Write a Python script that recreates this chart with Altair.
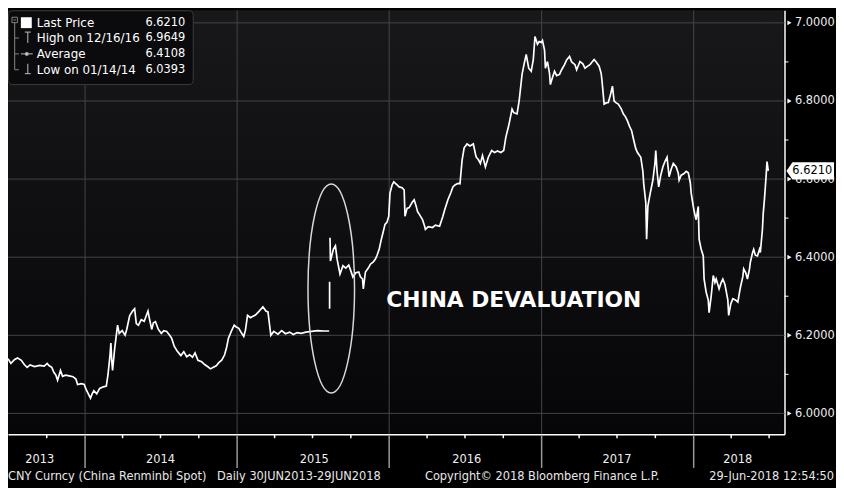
import datetime as dt
import pandas as pd
import altair as alt

# ---------------- values (day-of-year, price) ----------------
doy_2013 = [181, 188, 197, 204, 213, 220, 227, 234, 245, 257, 268, 275, 280, 286, 291,
            296, 300, 307, 312, 319, 328, 337, 344, 348, 357, 364]
px_2013 = [6.140, 6.128, 6.138, 6.142, 6.136, 6.125, 6.118, 6.124, 6.120, 6.123, 6.121, 6.128,
           6.122, 6.118, 6.105, 6.098, 6.085, 6.110, 6.095, 6.098, 6.096, 6.094, 6.088, 6.074,
           6.076, 6.074]

doy_2014 = [4, 14, 18, 22, 29, 36, 45, 52, 56, 61, 63, 65, 67, 72, 79, 83, 90, 97, 101, 108,
            115, 120, 124, 129, 136, 143, 152, 156, 161, 165, 170, 177, 184, 190, 197, 204,
            209, 215, 222, 231, 238, 245, 252, 259, 265, 272, 281, 288, 295, 302, 309, 316,
            322, 329, 336, 341, 345, 352, 359, 363]
px_2014 = [6.060, 6.039, 6.050, 6.058, 6.050, 6.064, 6.068, 6.070, 6.099, 6.150, 6.180, 6.135,
           6.110, 6.165, 6.226, 6.205, 6.212, 6.200, 6.215, 6.250, 6.262, 6.268, 6.230, 6.226,
           6.240, 6.236, 6.262, 6.240, 6.215, 6.232, 6.235, 6.215, 6.205, 6.212, 6.210, 6.200,
           6.192, 6.172, 6.160, 6.148, 6.158, 6.145, 6.150, 6.144, 6.155, 6.136, 6.132, 6.125,
           6.120, 6.114, 6.118, 6.122, 6.130, 6.136, 6.150, 6.170, 6.192, 6.210, 6.226, 6.222]

doy_2015_pre = [5, 12, 17, 21, 26, 33, 38, 45, 54, 63, 70, 75, 82, 89, 99, 108, 117, 127, 136,
                145, 155, 166, 180, 194, 209, 222]
px_2015_pre = [6.218, 6.205, 6.197, 6.213, 6.251, 6.245, 6.248, 6.252, 6.262, 6.273, 6.262,
               6.260, 6.200, 6.210, 6.203, 6.212, 6.204, 6.208, 6.202, 6.207, 6.205, 6.208,
               6.210, 6.212, 6.211, 6.211]

dev_doy = 223                      # 11 Aug 2015
dev_range = [6.268, 6.337]

doy_2015_post = [224, 225, 232, 237, 241, 248, 255, 262, 269, 274, 279, 286, 293, 297, 302,
                 304, 309, 316, 321, 328, 333, 337, 342, 347, 351, 356, 361, 365]
px_2015_post = [6.450, 6.390, 6.420, 6.429, 6.395, 6.357, 6.378, 6.372, 6.380, 6.365, 6.349,
                6.360, 6.362, 6.350, 6.344, 6.319, 6.362, 6.372, 6.382, 6.388, 6.395, 6.405,
                6.420, 6.445, 6.462, 6.484, 6.490, 6.505]

doy_2016 = [3, 8, 12, 20, 25, 32, 37, 39, 44, 49, 56, 61, 66, 69, 76, 81, 86, 88, 95, 105,
            112, 122, 130, 134, 142, 149, 154, 159, 166, 171, 176, 181, 188, 195, 203, 208,
            210, 215, 220, 225, 232, 239, 247, 254, 261, 269, 276, 281, 288, 296, 300, 308,
            313, 320, 325, 330, 335, 336, 342, 347, 351, 357, 361, 366]
px_2016 = [6.564, 6.585, 6.593, 6.585, 6.580, 6.578, 6.572, 6.505, 6.525, 6.527, 6.540, 6.547,
           6.530, 6.517, 6.505, 6.496, 6.480, 6.471, 6.478, 6.476, 6.482, 6.479, 6.505, 6.520,
           6.547, 6.565, 6.580, 6.585, 6.589, 6.588, 6.648, 6.680, 6.690, 6.685, 6.690, 6.665,
           6.656, 6.650, 6.640, 6.660, 6.631, 6.656, 6.673, 6.668, 6.672, 6.668, 6.673, 6.707,
           6.737, 6.779, 6.770, 6.767, 6.800, 6.868, 6.895, 6.919, 6.890, 6.884, 6.876, 6.906,
           6.965, 6.945, 6.952, 6.950]

doy_2017 = [3, 8, 10, 15, 20, 22, 27, 32, 37, 44, 49, 56, 61, 68, 73, 81, 85, 93, 100, 105,
            110, 117, 122, 127, 132, 139, 144, 146, 151, 156, 161, 166, 171, 175, 180, 185,
            192, 197, 202, 207, 212, 217, 222, 227, 231, 239, 244, 246, 251, 253, 256, 261,
            268, 273, 275, 278, 282, 287, 292, 297, 302, 307, 312, 317, 324, 329, 331, 336,
            343, 348, 353, 358, 360, 365]
px_2017 = [6.955, 6.930, 6.884, 6.901, 6.870, 6.842, 6.860, 6.876, 6.865, 6.868, 6.880, 6.893,
           6.905, 6.914, 6.900, 6.893, 6.880, 6.901, 6.895, 6.884, 6.888, 6.893, 6.900, 6.906,
           6.900, 6.889, 6.870, 6.851, 6.792, 6.795, 6.796, 6.815, 6.838, 6.800, 6.795, 6.792,
           6.780, 6.767, 6.760, 6.749, 6.735, 6.724, 6.700, 6.678, 6.668, 6.656, 6.620, 6.589,
           6.540, 6.446, 6.530, 6.560, 6.597, 6.640, 6.673, 6.620, 6.580, 6.610, 6.631, 6.645,
           6.656, 6.606, 6.625, 6.640, 6.631, 6.615, 6.597, 6.610, 6.614, 6.620, 6.616, 6.590,
           6.564, 6.530]

doy_2018 = [3, 7, 12, 14, 19, 24, 26, 31, 36, 38, 43, 48, 52, 55, 59, 62, 67, 71, 76, 78,
            83, 85, 90, 95, 102, 107, 111, 114, 119, 121, 126, 130, 135, 137, 142, 145, 149,
            154, 159, 161, 166, 168, 171, 173, 175, 177, 180]
px_2018 = [6.513, 6.496, 6.530, 6.446, 6.420, 6.403, 6.344, 6.310, 6.290, 6.258, 6.300, 6.353,
           6.335, 6.344, 6.330, 6.319, 6.335, 6.344, 6.330, 6.319, 6.290, 6.251, 6.280, 6.294,
           6.290, 6.285, 6.310, 6.327, 6.350, 6.370, 6.360, 6.344, 6.370, 6.387, 6.410, 6.420,
           6.405, 6.403, 6.420, 6.412, 6.471, 6.513, 6.550, 6.580, 6.610, 6.645, 6.621]

last_price = 6.6210
legend_labels = ["Last Price", "High on 12/16/16", "Average", "Low on 01/14/14"]
legend_values = ["6.6210", "6.9649", "6.4108", "6.0393"]

y_major = [6.0, 6.2, 6.4, 6.6, 6.8, 7.0]
y_minor = [6.1, 6.3, 6.5, 6.7, 6.9]
year_starts = ["2014-01-01", "2015-01-01", "2016-01-01", "2017-01-01", "2018-01-01"]
quarter_ticks = ["2013-10-01", "2014-04-01", "2014-07-01", "2014-10-01", "2015-04-01",
                 "2015-07-01", "2015-10-01", "2016-04-01", "2016-07-01", "2016-10-01",
                 "2017-04-01", "2017-07-01", "2017-10-01", "2018-04-01", "2018-07-01"]
year_labels = ["2013", "2014", "2015", "2016", "2017", "2018"]
year_label_dates = ["2013-09-14", "2014-07-01", "2015-07-05", "2016-07-05", "2017-07-01",
                    "2018-04-17"]
ellipse_center = ("2015-08-15", 6.32)
annotation_text = "CHINA DEVALUATION"
footer_texts = ["CNY Curncy (China Renminbi Spot)", "Daily 30JUN2013-29JUN2018",
                "Copyright\u00a9 2018 Bloomberg Finance L.P.", "29-Jun-2018 12:54:50"]

# ---------------- build tables ----------------
def day(year, doy):
    return (dt.date(year, 1, 1) + dt.timedelta(days=doy - 1)).isoformat()

rows = []
def add(year, doys, pxs, seg):
    for d, p in zip(doys, pxs):
        rows.append({"date": day(year, d), "price": p, "seg": seg, "i": len(rows)})

add(2013, doy_2013, px_2013, 0)
add(2014, doy_2014, px_2014, 0)
add(2015, doy_2015_pre, px_2015_pre, 0)
add(2015, [dev_doy, dev_doy], dev_range, 1)
add(2015, doy_2015_post, px_2015_post, 2)
add(2016, doy_2016, px_2016, 2)
add(2017, doy_2017, px_2017, 2)
add(2018, doy_2018, px_2018, 2)
df = pd.DataFrame(rows)

def dtm(s):
    y, m, d = map(int, s.split("-"))
    return alt.DateTime(year=y, month=m, date=d, utc=True)

W, H = 784, 428
FONT = "DejaVu Sans"
one = pd.DataFrame({"k": [0]})
GRID = "#45454a"

xscale = alt.Scale(type="utc", domain=[dtm("2013-06-30"), dtm("2018-08-07")])
yscale = alt.Scale(domain=[5.9467, 7.0322], nice=False, zero=False)
xaxis = alt.Axis(values=[dtm(s) for s in year_starts], labels=False, ticks=False,
                 domainColor="#ffffff", domainWidth=1.5, grid=False, title=None)
yaxis = alt.Axis(orient="right", values=y_major, format=".4f", ticks=False,
                 domainColor="#ffffff", domainWidth=1.5, labelColor="#eeeeee",
                 labelFont=FONT, labelFontSize=11.5, labelPadding=10, labelOverlap=False,
                 grid=False, title=None)
x_enc = alt.X("date:T", scale=xscale, axis=xaxis)
y_enc = alt.Y("price:Q", scale=yscale, axis=yaxis)

layers = []

bg = alt.Chart(one).mark_rect(
    fill=alt.LinearGradient(gradient="linear",
                            stops=[alt.GradientStop(color="#18181b", offset=0),
                                   alt.GradientStop(color="#060609", offset=1)],
                            x1=0, x2=0, y1=0, y2=1)
).encode(x=alt.value(0), x2=alt.value(W - 1), y=alt.value(0), y2=alt.value(H - 1))
layers.append(bg)

grid_v = alt.Chart(pd.DataFrame({"date": year_starts})).mark_rule(
    color=GRID, strokeWidth=1
).encode(x=x_enc, y=alt.value(0), y2=alt.value(H))
grid_h = alt.Chart(pd.DataFrame({"price": y_major})).mark_rule(
    color=GRID, strokeWidth=1
).encode(y=y_enc, x=alt.value(0), x2=alt.value(W))
layers += [grid_v, grid_h]

line = alt.Chart(df).mark_line(color="#ffffff", strokeWidth=1.7).encode(
    x=x_enc, y=y_enc, detail="seg:N", order="i:Q")
layers.append(line)

qtick = alt.Chart(pd.DataFrame({"date": quarter_ticks})).mark_rule(
    color="#ffffff", strokeWidth=1.5
).encode(x=x_enc, y=alt.value(H), y2=alt.value(H + 4))
sep = alt.Chart(pd.DataFrame({"date": year_starts})).mark_rule(
    color="#9a9a9a", strokeWidth=1.5
).encode(x=x_enc, y=alt.value(H + 0.75), y2=alt.value(H + 34))
ylab = alt.Chart(pd.DataFrame({"date": year_label_dates, "label": year_labels})).mark_text(
    font=FONT, fontSize=11.5, color="#f0f0f0", align="center", baseline="middle"
).encode(x=x_enc, y=alt.value(454), text="label:N")
minor = alt.Chart(pd.DataFrame({"price": y_minor})).mark_rule(
    color="#ffffff", strokeWidth=1
).encode(y=y_enc, x=alt.value(W), x2=alt.value(W + 4))
tri = alt.Chart(pd.DataFrame({"price": y_major})).mark_point(
    shape="triangle-right", filled=True, color="#ffffff", size=24, opacity=1
).encode(x=alt.value(W + 5), y=y_enc)
layers += [qtick, sep, ylab, minor, tri]

ellipse_path = ("M0,-1C0.123,-1,0.2227,-0.5523,0.2227,0C0.2227,0.5523,0.123,1,0,1"
                "C-0.123,1,-0.2227,0.5523,-0.2227,0C-0.2227,-0.5523,-0.123,-1,0,-1Z")
ell = alt.Chart(pd.DataFrame({"date": [ellipse_center[0]], "price": [ellipse_center[1]]})).mark_point(
    shape=ellipse_path, filled=False, color="#d8d8d8", strokeWidth=1.5, size=44521, opacity=1
).encode(x=x_enc, y=y_enc)
layers.append(ell)

ann = alt.Chart(one).mark_text(
    text=annotation_text, font=FONT, fontWeight="bold", fontSize=22, color="#ffffff",
    align="left", baseline="middle"
).encode(x=alt.value(382), y=alt.value(292.5))
layers.append(ann)

box_path = "M-1,0L-0.75,-0.36L1,-0.36L1,0.36L-0.75,0.36Z"
lastdf = pd.DataFrame({"price": [last_price], "label": [legend_values[0]]})
lastbox = alt.Chart(lastdf).mark_point(
    shape=box_path, filled=True, color="#ffffff", size=2304, opacity=1
).encode(x=alt.value(810), y=y_enc)
lasttxt = alt.Chart(lastdf).mark_text(
    font=FONT, fontSize=11.5, color="#000000", align="center", baseline="middle"
).encode(x=alt.value(812), y=y_enc, text="label:N")
layers += [lastbox, lasttxt]

# ---------------- legend box ----------------
layers.append(alt.Chart(one).mark_rect(fill="#0b0b0d", stroke="#3c3c3c", strokeWidth=1,
                                       cornerRadius=4)
              .encode(x=alt.value(0.5), x2=alt.value(187), y=alt.value(0.5), y2=alt.value(75)))

def rule(x1, y1, x2, y2, color="#858585", w=1.0):
    return alt.Chart(one).mark_rule(color=color, strokeWidth=w).encode(
        x=alt.value(x1), y=alt.value(y1), x2=alt.value(x2), y2=alt.value(y2))

layers.append(alt.Chart(one).mark_rect(fillOpacity=0, stroke="#858585", strokeWidth=1)
              .encode(x=alt.value(4), x2=alt.value(9.5), y=alt.value(7), y2=alt.value(12.5)))
layers.append(rule(5.5, 9.75, 8, 9.75))
layers.append(rule(6.75, 12.5, 6.75, 60))
for yy in (28, 44, 60):
    layers.append(rule(6.75, yy, 11, yy))
layers.append(alt.Chart(one).mark_rect(fill="#ffffff")
              .encode(x=alt.value(13), x2=alt.value(24), y=alt.value(7), y2=alt.value(18)))
icon = "#bdbdbd"
layers += [rule(17, 22, 23, 22, icon), rule(20, 22, 20, 33, icon),
           rule(13, 44, 25, 44, icon), rule(20, 54, 20, 64, icon), rule(17, 64, 23, 64, icon)]
layers.append(alt.Chart(one).mark_point(filled=True, color=icon, size=14, opacity=1)
              .encode(x=alt.value(19), y=alt.value(44)))

row_y = [12.5, 28, 44, 60]
for lab, val, yy in zip(legend_labels, legend_values, row_y):
    layers.append(alt.Chart(one).mark_text(text=lab, font=FONT, fontSize=12, color="#ffffff",
                                           align="left", baseline="middle")
                  .encode(x=alt.value(29), y=alt.value(yy)))
    layers.append(alt.Chart(one).mark_text(text=val, font=FONT, fontSize=11.5, color="#ffffff",
                                           align="right", baseline="middle")
                  .encode(x=alt.value(179), y=alt.value(yy)))

# ---------------- footer ----------------
foot_x = [0, 211, 421, 834]
foot_align = ["left", "left", "left", "right"]
for txt, fx, fa in zip(footer_texts, foot_x, foot_align):
    layers.append(alt.Chart(one).mark_text(text=txt, font=FONT, fontSize=11.5, color="#e8e8e8",
                                           align=fa, baseline="middle")
                  .encode(x=alt.value(fx), y=alt.value(471.5)))

chart = alt.layer(*layers).properties(
    width=W, height=H,
    padding={"left": 0, "top": 0, "right": 52, "bottom": 52},
    autosize=alt.AutoSizeParams(type="none"),
    background="#000000",
).configure_view(strokeWidth=0)

chart.save("out.html", embed_options={"renderer": "svg", "actions": False})
